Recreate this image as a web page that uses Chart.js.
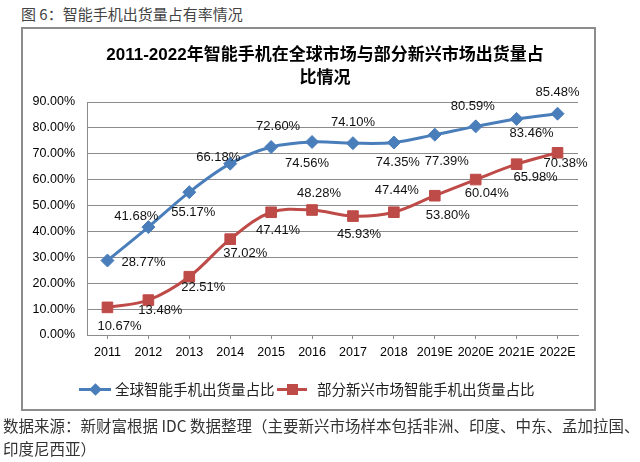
<!DOCTYPE html>
<html><head><meta charset="utf-8">
<script src="https://cdn.jsdelivr.net/npm/chart.js@4.4.0/dist/chart.umd.min.js"></script>
<style>
html,body{margin:0;padding:0;background:#fff;width:640px;height:462px;overflow:hidden;position:relative;font-family:"Noto Sans CJK SC",sans-serif;}
#header{position:absolute;left:21px;top:3px;font-size:15px;color:#444;line-height:22px;white-space:nowrap;}
#box{position:absolute;left:21px;top:27px;width:571px;height:380px;border:2px solid #8c8c8c;}
#wrap{position:absolute;left:0;top:0;width:640px;height:462px;}
#title{position:absolute;left:0;width:650px;top:43px;text-align:center;font-weight:bold;font-size:17px;line-height:23px;color:#000;font-family:"Liberation Sans","Noto Sans CJK SC",sans-serif;}
.lg{position:absolute;white-space:nowrap;font-size:14.5px;line-height:20px;color:#222;top:379px;}
.ln{position:absolute;height:3px;top:388px;}
.mk{position:absolute;}
#source{position:absolute;left:3px;top:414px;font-size:15.5px;line-height:23px;color:#333;white-space:nowrap;}
</style>
</head><body>
<div id="header">图 6：智能手机出货量占有率情况</div>
<div id="box"></div>
<div id="wrap"><canvas id="c" width="640" height="462"></canvas></div>
<div id="title"></div>
<div id="legend"></div>
<div id="source">数据来源：新财富根据 IDC 数据整理（主要新兴市场样本包括非洲、印度、中东、孟加拉国、<br>印度尼西亚）</div>
<script>
const chartTitle = ['2011-2022年智能手机在全球市场与部分新兴市场出货量占', '比情况'];
const categories = ['2011','2012','2013','2014','2015','2016','2017','2018','2019E','2020E','2021E','2022E'];
const globalShare = [28.77,41.68,55.17,66.18,72.60,74.56,74.10,74.35,77.39,80.59,83.46,85.48];
const emergingShare = [10.67,13.48,22.51,37.02,47.41,48.28,45.93,47.44,53.80,60.04,65.98,70.38];
const seriesNames = ['全球智能手机出货量占比','部分新兴市场智能手机出货量占比'];
const yTickMin = 0, yTickMax = 90, yTickStep = 10;
const colors = ['#4A7EBB','#BE4B48'];

// label offsets (pixels from point) – layout only
const labelOffsets = [
  [[36,2],[-12,-11],[4,20],[-12,-6],[7,-21],[-5,21],[0,-21],[4,20],[12,27],[-3,-20],[15,14],[0,-21]],
  [[12,19],[12,10],[14,11],[15,14],[7,18],[7,-17],[6,18],[3,-22],[13,20],[11,14],[19,13],[8,11]]
];

document.getElementById('title').innerHTML = chartTitle.join('<br>');
const legend = document.getElementById('legend');
legend.innerHTML =
  '<div class="ln" style="left:79px;width:32px;background:'+colors[0]+'"></div>'+
  '<div class="mk" style="left:91px;top:385px;width:9px;height:9px;background:'+colors[0]+';transform:rotate(45deg)"></div>'+
  '<div class="lg" style="left:115px">'+seriesNames[0]+'</div>'+
  '<div class="ln" style="left:277px;width:30px;background:'+colors[1]+'"></div>'+
  '<div class="mk" style="left:287px;top:384px;width:11px;height:11px;background:'+colors[1]+'"></div>'+
  '<div class="lg" style="left:317px">'+seriesNames[1]+'</div>';

const labelPlugin = {
  id:'dl',
  afterDatasetsDraw(chart){
    const ctx = chart.ctx;
    ctx.save();
    ctx.font = '13px "Liberation Sans"';
    ctx.fillStyle = '#111';
    ctx.textAlign = 'center';
    ctx.textBaseline = 'middle';
    chart.data.datasets.forEach((ds,di)=>{
      const meta = chart.getDatasetMeta(di);
      meta.data.forEach((pt,i)=>{
        const o = labelOffsets[di][i];
        ctx.fillText(ds.data[i].toFixed(2)+'%', pt.x+o[0], pt.y+o[1]);
      });
    });
    ctx.restore();
  }
};

new Chart(document.getElementById('c'), {
  type:'line',
  data:{
    labels:categories,
    datasets:[
      {label:seriesNames[0],data:globalShare,borderColor:colors[0],backgroundColor:colors[0],borderWidth:3,
       pointStyle:'rectRot',pointRadius:6.5,pointBorderWidth:1,tension:0.35},
      {label:seriesNames[1],data:emergingShare,borderColor:colors[1],backgroundColor:colors[1],borderWidth:3,
       pointStyle:'rect',pointRadius:7.5,pointBorderWidth:1,tension:0.35}
    ]
  },
  options:{
    responsive:false,animation:false,
    layout:{padding:{left:0,right:62,top:102,bottom:97}},
    plugins:{legend:{display:false},tooltip:{enabled:false},title:{display:false}},
    scales:{
      x:{
        offset:true,
        grid:{display:true,drawOnChartArea:false,offset:false,tickLength:4,color:'#8c8c8c'},
        border:{display:true,color:'#8c8c8c',width:1},
        ticks:{color:'#000',font:{family:'Liberation Sans',size:12.5},padding:6,maxRotation:0,autoSkip:false},
        afterFit(s){s.height=30;}
      },
      y:{
        min:yTickMin,max:yTickMax,
        grid:{color:'#8c8c8c',drawTicks:false},
        border:{display:true,color:'#8c8c8c',width:1},
        ticks:{stepSize:yTickStep,color:'#000',font:{family:'Liberation Sans',size:12.5},padding:12,
          callback:v=>v.toFixed(2)+'%'},
        afterFit(s){s.width=87;}
      }
    }
  },
  plugins:[labelPlugin]
});
</script>
</body></html>
